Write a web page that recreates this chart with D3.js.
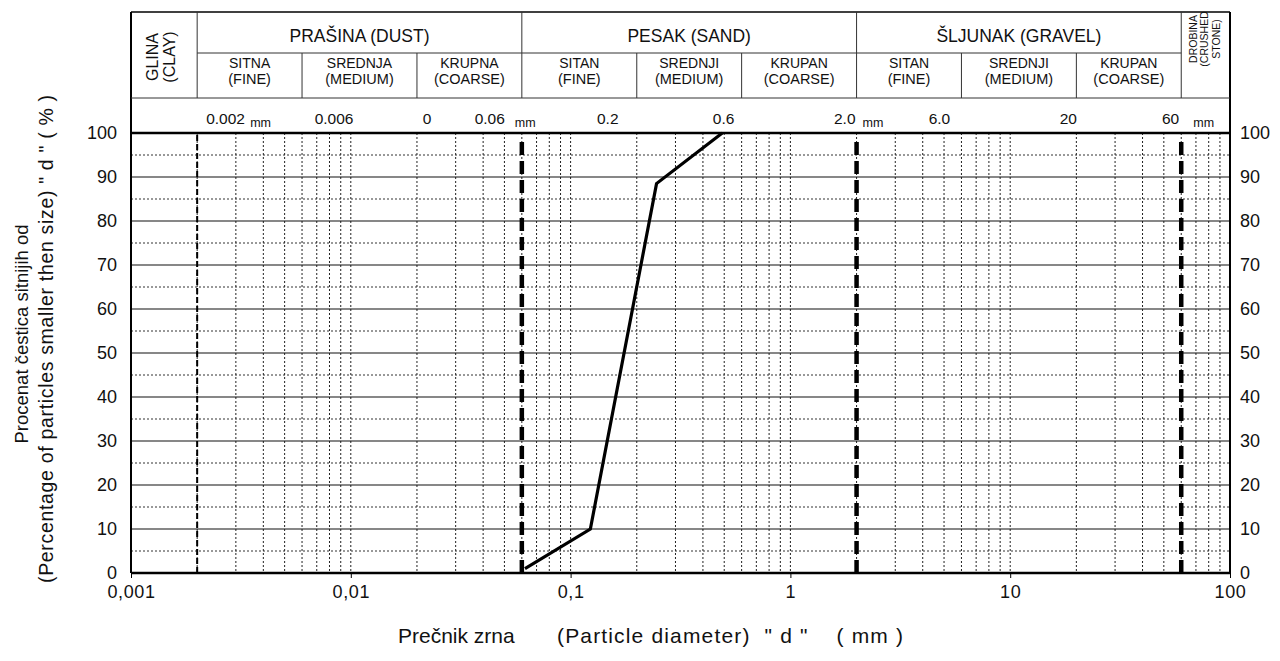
<!DOCTYPE html>
<html>
<head>
<meta charset="utf-8">
<script src="https://cdn.jsdelivr.net/npm/d3@7"></script>
<style>
  body { margin: 0; background: #fff; }
  svg { display: block; font-family: "Liberation Sans", Arial, sans-serif; }
</style>
</head>
<body>
<div id="chart"></div>
<script>
// grain size curve
const diameters = [0.062, 0.123, 0.246, 0.49];
const passing = [1, 10, 88.5, 100];

const xTicks = [0.001, 0.01, 0.1, 1, 10, 100];
const xTickLabels = ['0,001', '0,01', '0,1', '1', '10', '100'];
const yTicks = [0, 10, 20, 30, 40, 50, 60, 70, 80, 90, 100];

// main fractions
const mainFrom = [0.002, 0.06, 2];
const mainTo = [0.06, 2, 60];
const mainNames = ['PRAŠINA (DUST)', 'PESAK (SAND)', 'ŠLJUNAK (GRAVEL)'];

// sub fractions
const subBounds = [0.002, 0.006, 0.02, 0.06, 0.2, 0.6, 2, 6, 20, 60];
const subTop = ['SITNA', 'SREDNJA', 'KRUPNA', 'SITAN', 'SREDNJI', 'KRUPAN', 'SITAN', 'SREDNJI', 'KRUPAN'];
const subBottom = ['(FINE)', '(MEDIUM)', '(COARSE)', '(FINE)', '(MEDIUM)', '(COARSE)', '(FINE)', '(MEDIUM)', '(COARSE)'];

// limit sizes in mm shown above the plot
const limitValues = [0.002, 0.006, 0.02, 0.06, 0.2, 0.6, 2, 6, 20, 60];
const limitLabels = ['0.002', '0.006', '0', '0.06', '0.2', '0.6', '2.0', '6.0', '20', '60'];
const mmValues = [0.002, 0.06, 2, 60];

// boundary lines in the plot
const boundaryValues = [0.002, 0.06, 2, 60];
const boundaryHeavy = [false, true, true, true];

const W = 1280, H = 661;
const L = 131, R = 1230, T = 133, B = 573;
const headTop = 12, headMid = 53, headLow = 98;
const ink = '#111';

const svg = d3.select('#chart').append('svg')
  .attr('width', W).attr('height', H);

const x = d3.scaleLog().domain([0.001, 100]).range([L, R]);
const y = d3.scaleLinear().domain([0, 100]).range([B, T]);

const grid = svg.append('g');

// vertical grid (dotted)
const minor = [];
for (let e = -3; e < 2; e++) {
  for (let m = 1; m <= 9; m++) {
    const v = m * Math.pow(10, e);
    if (v > 0.001 && v < 100) minor.push(v);
  }
}
grid.selectAll('line.vx')
  .data(minor)
  .enter().append('line')
  .attr('x1', d => x(d)).attr('x2', d => x(d))
  .attr('y1', T).attr('y2', B)
  .attr('stroke', '#222').attr('stroke-width', 1)
  .attr('stroke-dasharray', '2,2');

// horizontal grid: dotted at 5s, solid at 10s
grid.selectAll('line.hh')
  .data(d3.range(5, 100, 10))
  .enter().append('line')
  .attr('x1', L).attr('x2', R)
  .attr('y1', d => y(d)).attr('y2', d => y(d))
  .attr('stroke', '#333').attr('stroke-width', 1)
  .attr('stroke-dasharray', '2,2');

grid.selectAll('line.hs')
  .data(d3.range(10, 100, 10))
  .enter().append('line')
  .attr('x1', L).attr('x2', R)
  .attr('y1', d => y(d)).attr('y2', d => y(d))
  .attr('stroke', ink).attr('stroke-width', 1.2);

// boundary lines
svg.selectAll('line.bnd')
  .data(boundaryValues)
  .enter().append('line')
  .attr('x1', d => x(d)).attr('x2', d => x(d))
  .attr('y1', (d, i) => boundaryHeavy[i] ? T + 9 : T + 2)
  .attr('y2', B)
  .attr('stroke', '#000')
  .attr('stroke-width', (d, i) => boundaryHeavy[i] ? 4.5 : 2)
  .attr('stroke-dasharray', (d, i) => boundaryHeavy[i] ? '13,6' : '6,3');

// curve
const line = d3.line()
  .x((d, i) => x(diameters[i]))
  .y((d, i) => y(passing[i]));
svg.append('path')
  .datum(passing)
  .attr('d', line)
  .attr('fill', 'none')
  .attr('stroke', '#000')
  .attr('stroke-width', 3.2);

// frame
svg.append('line').attr('x1', L).attr('x2', R).attr('y1', T).attr('y2', T)
  .attr('stroke', '#000').attr('stroke-width', 2.6);
svg.append('line').attr('x1', L).attr('x2', R).attr('y1', B).attr('y2', B)
  .attr('stroke', '#000').attr('stroke-width', 2.6);
svg.append('line').attr('x1', L).attr('x2', L).attr('y1', headTop).attr('y2', B)
  .attr('stroke', '#000').attr('stroke-width', 2);
svg.append('line').attr('x1', R).attr('x2', R).attr('y1', headTop).attr('y2', B)
  .attr('stroke', '#000').attr('stroke-width', 2);

// axes
const xAxis = d3.axisBottom(x)
  .tickValues(xTicks)
  .tickSize(5)
  .tickFormat((d, i) => xTickLabels[i]);
const gx = svg.append('g')
  .attr('transform', `translate(0,${B})`)
  .call(xAxis);
gx.select('.domain').remove();
gx.selectAll('text').attr('font-size', 18).attr('fill', ink).attr('dy', '0.95em')
  .attr('letter-spacing', 0.6)
  .attr('font-family', '"Liberation Sans", Arial, sans-serif');

const yLeft = d3.axisLeft(y).tickValues(yTicks).tickSize(0).tickPadding(14);
const gyl = svg.append('g').attr('transform', `translate(${L},0)`).call(yLeft);
gyl.select('.domain').remove();
gyl.selectAll('text').attr('font-size', 18).attr('fill', ink)
  .attr('font-family', '"Liberation Sans", Arial, sans-serif');

const yRight = d3.axisRight(y).tickValues(yTicks).tickSize(0).tickPadding(10);
const gyr = svg.append('g').attr('transform', `translate(${R},0)`).call(yRight);
gyr.select('.domain').remove();
gyr.selectAll('text').attr('font-size', 18).attr('fill', ink)
  .attr('font-family', '"Liberation Sans", Arial, sans-serif');

// header
const head = svg.append('g');
head.append('line').attr('x1', L).attr('x2', R).attr('y1', headTop).attr('y2', headTop)
  .attr('stroke', '#000').attr('stroke-width', 1.6);
head.append('line').attr('x1', x(0.002)).attr('x2', x(60)).attr('y1', headMid).attr('y2', headMid)
  .attr('stroke', '#333').attr('stroke-width', 1);
head.append('line').attr('x1', L).attr('x2', R).attr('y1', headLow).attr('y2', headLow)
  .attr('stroke', '#333').attr('stroke-width', 1);

head.selectAll('line.mainDiv')
  .data(boundaryValues)
  .enter().append('line')
  .attr('x1', d => x(d)).attr('x2', d => x(d))
  .attr('y1', headTop).attr('y2', headLow)
  .attr('stroke', '#333').attr('stroke-width', 1);

head.selectAll('line.subDiv')
  .data(subBounds.filter(d => !boundaryValues.includes(d)))
  .enter().append('line')
  .attr('x1', d => x(d)).attr('x2', d => x(d))
  .attr('y1', headMid).attr('y2', headLow)
  .attr('stroke', '#333').attr('stroke-width', 1);

head.selectAll('text.main')
  .data(mainNames)
  .enter().append('text')
  .attr('x', (d, i) => (x(mainFrom[i]) + x(mainTo[i])) / 2)
  .attr('y', 42)
  .attr('text-anchor', 'middle')
  .attr('font-size', 17.5)
  .attr('fill', ink)
  .text(d => d);

const subs = head.selectAll('g.sub')
  .data(subTop)
  .enter().append('g')
  .attr('transform', (d, i) => `translate(${(x(subBounds[i]) + x(subBounds[i + 1])) / 2},0)`);
subs.append('text')
  .attr('y', 68).attr('text-anchor', 'middle').attr('font-size', 14).attr('fill', ink)
  .text(d => d);
subs.append('text')
  .attr('y', 84).attr('text-anchor', 'middle').attr('font-size', 14.5).attr('fill', ink)
  .text((d, i) => subBottom[i]);

// clay and crushed stone cells (rotated)
const clay = head.append('text')
  .attr('transform', `translate(0,${(headTop + headLow) / 2 + 2}) rotate(-90)`)
  .attr('text-anchor', 'middle').attr('font-size', 16).attr('fill', ink);
clay.append('tspan').attr('x', 0).attr('y', 158).text('GLINA');
clay.append('tspan').attr('x', 0).attr('y', 175).text('(CLAY)');

const stone = head.append('text')
  .attr('transform', `translate(0,39) rotate(-90)`)
  .attr('text-anchor', 'middle').attr('font-size', 10.5).attr('fill', ink)
  .attr('font-family', '"Liberation Sans Narrow", "Liberation Sans", Arial, sans-serif');
stone.append('tspan').attr('x', 0).attr('y', 1197).text('DROBINA');
stone.append('tspan').attr('x', 0).attr('y', 1208).text('(CRUSHED');
stone.append('tspan').attr('x', 0).attr('y', 1220).text('STONE)');

// limit sizes row
const limShift = [9, 32, 10, -17, -29, -18, -1, -22, -8, -2];
const limAnchor = ['start', 'middle', 'middle', 'end', 'middle', 'middle', 'end', 'middle', 'middle', 'end'];
head.selectAll('text.lim')
  .data(limitLabels)
  .enter().append('text')
  .attr('x', (d, i) => x(limitValues[i]) + limShift[i])
  .attr('y', 124)
  .attr('text-anchor', (d, i) => limAnchor[i])
  .attr('font-size', 15.5)
  .attr('fill', ink)
  .text(d => d);

const mmShift = [53, -7, 6, 12];
head.selectAll('text.mm')
  .data(mmValues)
  .enter().append('text')
  .attr('x', (d, i) => x(d) + mmShift[i])
  .attr('y', 127)
  .attr('font-size', 12.5)
  .attr('fill', ink)
  .text('mm');

// axis titles
const yt = svg.append('text')
  .attr('transform', `translate(0,0) rotate(-90)`)
  .attr('text-anchor', 'middle').attr('fill', ink);
yt.append('tspan').attr('x', -334).attr('y', 28).attr('font-size', 18.5)
  .text('Procenat čestica sitnijih od');
yt.append('tspan').attr('x', -339).attr('y', 53).attr('font-size', 19.5)
  .attr('textLength', 488).attr('lengthAdjust', 'spacing')
  .text('(Percentage of particles smaller then size) " d " ( % )');

const xt = svg.append('g').attr('font-size', 21).attr('fill', ink);
xt.append('text').attr('x', 398).attr('y', 643).text('Prečnik zrna');
xt.append('text').attr('x', 557).attr('y', 643)
  .attr('textLength', 346).attr('lengthAdjust', 'spacing')
  .style('white-space', 'pre')
  .text('(Particle diameter)  " d "    ( mm )');
</script>
</body>
</html>
